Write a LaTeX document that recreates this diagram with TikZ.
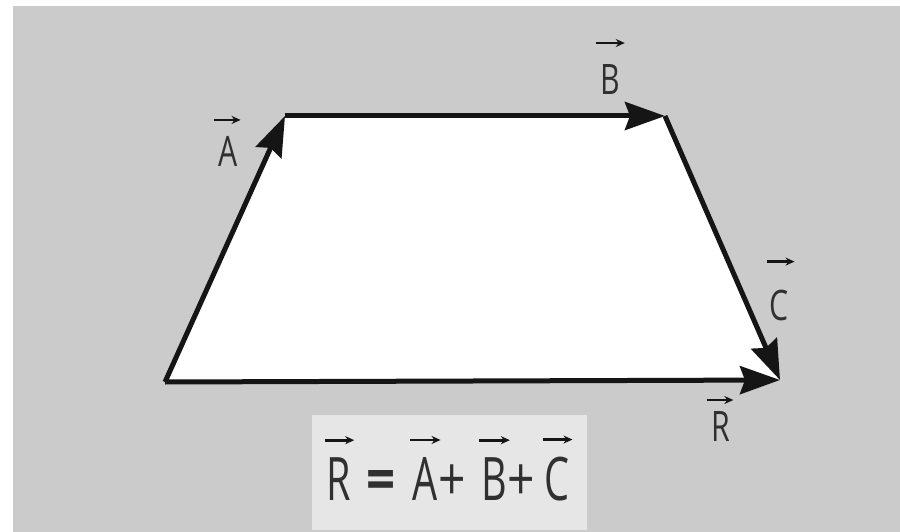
\documentclass[tikz,border=0pt]{standalone}
\usepackage{fontspec}
\setmainfont{Open Sans}
\usetikzlibrary{arrows.meta}
\definecolor{bggray}{HTML}{CBCBCB}
\definecolor{boxgray}{HTML}{E6E6E6}
\definecolor{ink}{HTML}{151515}
\definecolor{txt}{HTML}{303030}
\newcommand\sxl[1]{\scalebox{0.72}[1]{#1}}
\newcommand\sxf[1]{\scalebox{0.66}[1]{#1}}
\tikzset{
  vecline/.style={draw=ink,line width=5pt,line join=miter,
    -{Stealth[length=40pt,width=28pt,inset=5pt]}},
  lbl/.style={inner sep=0pt,outer sep=0pt,text=txt,font=\fontsize{42}{42}\selectfont},
  flbl/.style={inner sep=0pt,outer sep=0pt,text=txt,anchor=base,font=\fontsize{60}{60}\selectfont},
  varr/.style={draw=ink,line width=2.8pt,-{Stealth[length=9pt,width=8pt]}},
}
\begin{document}
\begin{tikzpicture}[x=1pt,y=-1pt]
\useasboundingbox (0,0) rectangle (900,532);
\fill[white] (0,0) rectangle (900,532);
\fill[bggray] (13,6) rectangle (900,532);
\fill[boxgray] (312,415) rectangle (587,530);
% trapezoid
\coordinate (P0) at (165,382);
\coordinate (P1) at (285,116);
\coordinate (P2) at (665,116);
\coordinate (P3) at (780,380);
\fill[white] (P0) -- (P1) -- (P2) -- (P3) -- cycle;
\draw[vecline] (P0) -- (P1);
\draw[vecline] (P1) -- (P2);
\draw[vecline] (P2) -- (P3);
\draw[vecline] (P0) -- (P3);
% labels
\node[lbl] (lA) at (228,151) {\sxl{A}};
\node[lbl] (lB) at (610,80) {\sxl{B}};
\node[lbl] (lC) at (779,305) {\sxl{C}};
\node[lbl] (lR) at (721,427) {\sxl{R}};
\draw[varr] ([xshift=-4pt,yshift=16pt]lA.north west) -- ([xshift=3pt,yshift=16pt]lA.north east);
\draw[varr] ([xshift=-4pt,yshift=22pt]lB.north west) -- ([xshift=5pt,yshift=22pt]lB.north east);
\draw[varr] ([xshift=-2pt,yshift=28pt]lC.north west) -- ([xshift=6pt,yshift=28pt]lC.north east);
\draw[varr] ([xshift=-5pt,yshift=12pt]lR.north west) -- ([xshift=3pt,yshift=12pt]lR.north east);
% formula
\node[flbl] (fR) at (339,500) {\sxf{R}};
\node[flbl] (feq) at (381,500) {\scalebox{0.85}[1]{\textbf{=}}};
\node[flbl] (fA) at (425,500) {\sxf{A}};
\node[flbl] (fp1) at (452,500) {\scalebox{0.8}[1]{+}};
\node[flbl] (fB) at (494,500) {\sxf{B}};
\node[flbl] (fp2) at (521,500) {\scalebox{0.8}[1]{+}};
\node[flbl] (fC) at (557,500) {\sxf{C}};
\foreach \n in {fR,fA,fB,fC}
  \draw[varr] ([xshift=-2pt,yshift=17pt]\n.north west) -- ([xshift=3pt,yshift=17pt]\n.north east);
\end{tikzpicture}
\end{document}
